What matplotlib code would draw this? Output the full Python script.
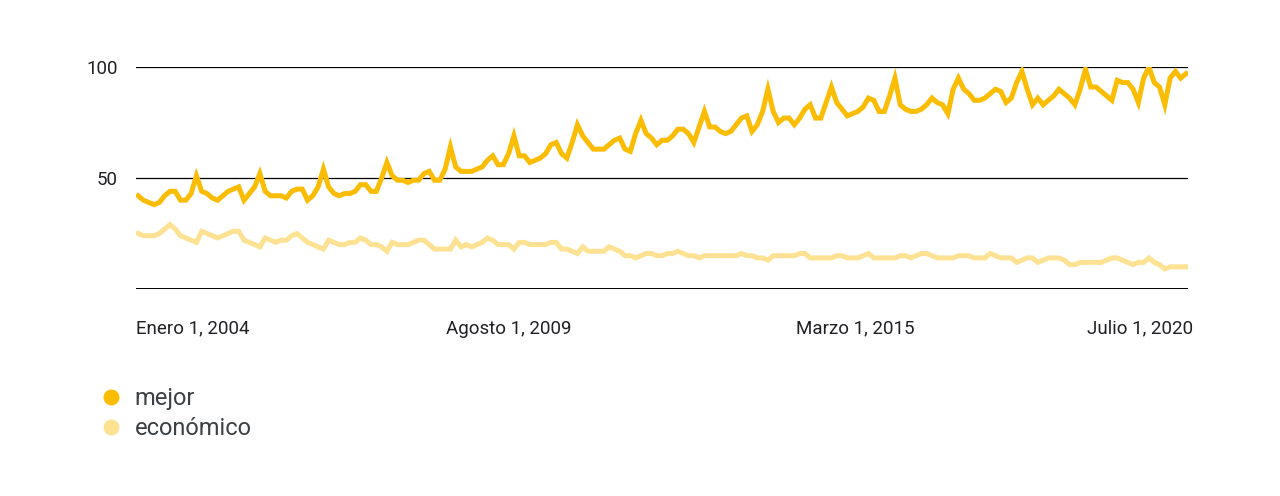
import numpy as np
import matplotlib
matplotlib.use('Agg')
import matplotlib.pyplot as plt
from matplotlib.lines import Line2D
from matplotlib.transforms import ScaledTranslation

plt.rcParams['font.family'] = ['Roboto', 'DejaVu Sans']

# monthly values, Jan 2004 .. Jul 2020
mejor = [
    42, 40, 39, 38, 39, 42, 44, 44, 40, 40, 43, 51,   # 2004
    44, 43, 41, 40, 42, 44, 45, 46, 40, 43, 46, 52,   # 2005
    44, 42, 42, 42, 41, 44, 45, 45, 40, 42, 46, 54,   # 2006
    46, 43, 42, 43, 43, 44, 47, 47, 44, 44, 50, 57,   # 2007
    51, 49, 49, 48, 49, 49, 52, 53, 49, 49, 54, 64,   # 2008
    55, 53, 53, 53, 54, 55, 58, 60, 56, 56, 61, 69,   # 2009
    60, 60, 57, 58, 59, 61, 65, 66, 61, 59, 66, 74,   # 2010
    69, 66, 63, 63, 63, 65, 67, 68, 63, 62, 70, 76,   # 2011
    70, 68, 65, 67, 67, 69, 72, 72, 70, 66, 73, 80,   # 2012
    73, 73, 71, 70, 71, 74, 77, 78, 71, 74, 80, 90,   # 2013
    80, 75, 77, 77, 74, 77, 81, 83, 77, 77, 84, 91,   # 2014
    84, 81, 78, 79, 80, 82, 86, 85, 80, 80, 87, 95,   # 2015
    83, 81, 80, 80, 81, 83, 86, 84, 83, 79, 90, 95,   # 2016
    90, 88, 85, 85, 86, 88, 90, 89, 84, 86, 93, 98,   # 2017
    90, 83, 86, 83, 85, 87, 90, 88, 86, 83, 90, 99,   # 2018
    91, 91, 89, 87, 85, 94, 93, 93, 90, 84, 95, 100,  # 2019
    93, 91, 83, 95, 98, 95, 97,                       # 2020
]
economico = [
    25, 24, 24, 24, 25, 27, 29, 27, 24, 23, 22, 21,
    26, 25, 24, 23, 24, 25, 26, 26, 22, 21, 20, 19,
    23, 22, 21, 22, 22, 24, 25, 23, 21, 20, 19, 18,
    22, 21, 20, 20, 21, 21, 23, 22, 20, 20, 19, 17,
    21, 20, 20, 20, 21, 22, 22, 20, 18, 18, 18, 18,
    22, 19, 20, 19, 20, 21, 23, 22, 20, 20, 20, 18,
    21, 21, 20, 20, 20, 20, 21, 21, 18, 18, 17, 16,
    19, 17, 17, 17, 17, 19, 18, 17, 15, 15, 14, 15,
    16, 16, 15, 15, 16, 16, 17, 16, 15, 15, 14, 15,
    15, 15, 15, 15, 15, 15, 16, 15, 15, 14, 14, 13,
    15, 15, 15, 15, 15, 16, 16, 14, 14, 14, 14, 14,
    15, 15, 14, 14, 14, 15, 16, 14, 14, 14, 14, 14,
    15, 15, 14, 15, 16, 16, 15, 14, 14, 14, 14, 15,
    15, 15, 14, 14, 14, 16, 15, 14, 14, 14, 12, 13,
    14, 14, 12, 13, 14, 14, 14, 13, 11, 11, 12, 12,
    12, 12, 12, 13, 14, 14, 13, 12, 11, 12, 12, 14,
    12, 11, 9, 10, 10, 10, 10,
]
tick_pos = [0, 67, 134, 198]
tick_labels = ['Enero 1, 2004', 'Agosto 1, 2009', 'Marzo 1, 2015', 'Julio 1, 2020']
series_names = ['mejor', 'económico']
colors = ['#FBBC04', '#FDE293']

fig = plt.figure(figsize=(12.8, 4.96), dpi=100)
ax = fig.add_axes([0.1063, 0.4173, 0.8219, 0.4476])

x = np.arange(len(mejor))
ax.plot(x, economico, color=colors[1], lw=3.6, solid_joinstyle='miter')
ax.plot(x, mejor, color=colors[0], lw=3.6, solid_joinstyle='miter')

ax.set_xlim(-0.4, 198.4)
ax.set_ylim(0, 100)
for v in [50, 100]:
    ax.axhline(v, color='black', lw=0.9, zorder=0)
ax.axhline(0, color='black', lw=1.4, zorder=0)

for s in ax.spines.values():
    s.set_visible(False)
ax.set_yticks([50, 100])
ax.set_yticklabels(['50', '100'], fontsize=13.5, color='#202124')
ax.tick_params(axis='y', length=0, pad=13)
ax.set_xticks(tick_pos)
ax.set_xticklabels(tick_labels, fontsize=13.5, color='#202124')
ax.tick_params(axis='x', length=0, pad=22)
labs = ax.get_xticklabels()
labs[0].set_ha('left')
labs[-1].set_ha('right')
# nudge labels sideways (px) to sit where the reference puts them
for lab, dx in zip(labs, [-2, 16, 8, 7]):
    lab.set_transform(lab.get_transform() + ScaledTranslation(dx / 100, 0, fig.dpi_scale_trans))

handles = [Line2D([], [], marker='o', ls='none', ms=10.5, color=c) for c in colors]
leg = fig.legend(handles, series_names, loc='upper left', bbox_to_anchor=(0.061, 0.262),
                 frameon=False, fontsize=17, handletextpad=0.5, labelspacing=0.3,
                 handlelength=1.0)
for t in leg.get_texts():
    t.set_color('#3c4043')

fig.savefig('out.png', dpi=100)
